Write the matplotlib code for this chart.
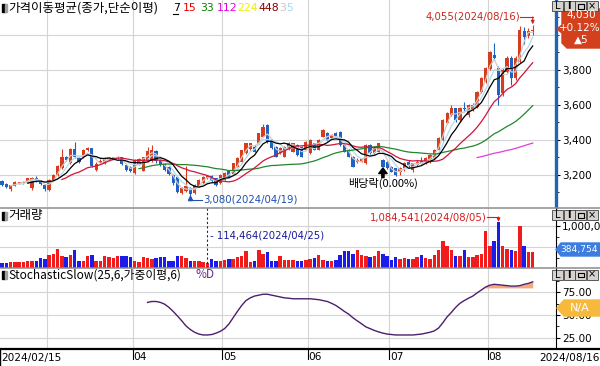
import numpy as np
import pandas as pd
import matplotlib
matplotlib.use("Agg")
import matplotlib.pyplot as plt
from matplotlib.patches import Rectangle, Polygon

W, H = 600, 366
KR = ["Noto Sans CJK KR", "DejaVu Sans"]
plt.rcParams["font.family"] = ["DejaVu Sans"]

# KRX trading days 2024/02/15 .. 2024/08/16
holidays = ["2024-03-01", "2024-04-10", "2024-05-01", "2024-05-06",
            "2024-05-15", "2024-06-06", "2024-08-15"]
dates = pd.bdate_range("2024-02-15", "2024-08-16")
dates = dates[~dates.isin(pd.to_datetime(holidays))]

opens = [3165, 3150, 3118, 3138, 3155, 3157, 3158, 3125, 3185, 3165,
         3145, 3115, 3170, 3200, 3240, 3305, 3270, 3350, 3295, 3300,
         3343, 3352, 3230, 3270, 3268, 3285, 3290, 3295, 3300, 3258,
         3245, 3212, 3260, 3225, 3280, 3280, 3335, 3285, 3265, 3248,
         3200, 3190, 3095, 3110, 3125, 3095, 3135, 3152, 3180, 3192,
         3180, 3152, 3172, 3220, 3205, 3248, 3276, 3325, 3350, 3362,
         3381, 3419, 3486, 3400, 3362, 3324, 3305, 3352, 3333, 3371,
         3362, 3343, 3324, 3381, 3343, 3419, 3438, 3410, 3440, 3448,
         3371, 3343, 3305, 3276, 3280, 3267, 3371, 3324, 3333, 3286,
         3276, 3248, 3238, 3215, 3238, 3272, 3228, 3255, 3278, 3267,
         3276, 3295, 3343, 3400, 3495, 3543, 3581, 3514, 3585, 3545,
         3572, 3590, 3676, 3733, 3805, 3886, 3810, 3667, 3790, 3867,
         3752, 3848, 4025, 3995, 4025]
highs = [3170, 3155, 3145, 3165, 3162, 3165, 3185, 3190, 3195, 3170,
         3150, 3175, 3205, 3255, 3350, 3310, 3355, 3390, 3300, 3350,
         3360, 3355, 3275, 3290, 3300, 3305, 3305, 3310, 3305, 3262,
         3250, 3290, 3295, 3305, 3360, 3370, 3340, 3290, 3270, 3250,
         3205, 3195, 3130, 3250, 3130, 3150, 3175, 3195, 3200, 3200,
         3185, 3205, 3215, 3225, 3270, 3300, 3345, 3385, 3385, 3370,
         3440, 3490, 3490, 3405, 3365, 3360, 3365, 3390, 3385, 3375,
         3365, 3395, 3405, 3385, 3405, 3460, 3445, 3435, 3445, 3450,
         3375, 3348, 3310, 3295, 3295, 3375, 3375, 3365, 3385, 3290,
         3280, 3252, 3240, 3245, 3275, 3285, 3270, 3285, 3300, 3300,
         3320, 3350, 3415, 3520, 3560, 3600, 3585, 3590, 3619, 3605,
         3610, 3680, 3760, 3815, 3910, 3952, 3820, 3810, 3880, 3880,
         3880, 4050, 4045, 4040, 4055]
lows = [3135, 3125, 3110, 3135, 3150, 3150, 3152, 3115, 3160, 3145,
        3110, 3110, 3165, 3195, 3235, 3280, 3265, 3295, 3270, 3295,
        3335, 3245, 3220, 3260, 3260, 3280, 3285, 3290, 3255, 3225,
        3215, 3205, 3255, 3220, 3275, 3275, 3270, 3250, 3225, 3200,
        3145, 3095, 3090, 3105, 3080, 3090, 3130, 3150, 3175, 3160,
        3135, 3150, 3170, 3185, 3200, 3245, 3270, 3320, 3345, 3330,
        3375, 3415, 3385, 3350, 3300, 3320, 3300, 3345, 3330, 3310,
        3300, 3340, 3320, 3340, 3340, 3415, 3395, 3405, 3410, 3365,
        3330, 3300, 3245, 3270, 3275, 3260, 3320, 3320, 3330, 3245,
        3235, 3215, 3195, 3200, 3225, 3240, 3218, 3250, 3260, 3262,
        3270, 3290, 3338, 3395, 3490, 3535, 3505, 3505, 3565, 3530,
        3565, 3585, 3670, 3725, 3800, 3855, 3600, 3650, 3780, 3714,
        3745, 3840, 3950, 3985, 4000]
closes = [3143, 3133, 3140, 3160, 3157, 3160, 3180, 3185, 3165, 3150,
          3120, 3170, 3200, 3250, 3300, 3285, 3350, 3300, 3275, 3343,
          3352, 3250, 3265, 3280, 3295, 3298, 3300, 3300, 3260, 3230,
          3222, 3286, 3290, 3300, 3335, 3345, 3278, 3258, 3230, 3205,
          3152, 3100, 3124, 3135, 3090, 3143, 3171, 3190, 3195, 3165,
          3140, 3200, 3210, 3190, 3267, 3295, 3343, 3381, 3381, 3333,
          3438, 3476, 3390, 3352, 3305, 3352, 3362, 3381, 3381, 3314,
          3305, 3390, 3400, 3343, 3400, 3457, 3400, 3430, 3415, 3371,
          3333, 3305, 3248, 3286, 3290, 3371, 3324, 3362, 3381, 3248,
          3238, 3219, 3200, 3240, 3270, 3255, 3267, 3276, 3265, 3295,
          3314, 3343, 3410, 3514, 3552, 3581, 3514, 3581, 3575, 3600,
          3600, 3676, 3752, 3810, 3905, 3867, 3657, 3800, 3867, 3752,
          3867, 4030, 3990, 4025, 4030]
volume = [119000, 121000, 143000, 135000, 137000, 143000, 159000, 175000, 159000, 238000,
          214000, 317000, 333000, 460000, 294000, 254000, 317000, 437000, 175000, 176000,
          294000, 317000, 159000, 175000, 278000, 254000, 238000, 278000, 294000, 278000,
          254000, 159000, 135000, 254000, 238000, 222000, 238000, 262000, 254000, 175000,
          175000, 294000, 278000, 238000, 175000, 175000, 159000, 135000, 114464, 222000,
          175000, 159000, 198000, 214000, 214000, 254000, 278000, 397000, 135000, 175000,
          437000, 341000, 373000, 159000, 175000, 278000, 198000, 198000, 198000, 159000,
          175000, 198000, 214000, 238000, 317000, 198000, 175000, 175000, 198000, 317000,
          397000, 397000, 333000, 437000, 317000, 278000, 254000, 278000, 413000, 333000,
          294000, 198000, 254000, 214000, 238000, 214000, 214000, 254000, 317000, 238000,
          222000, 317000, 437000, 635000, 532000, 437000, 278000, 294000, 437000, 254000,
          254000, 317000, 333000, 873000, 532000, 651000, 1084541, 516000, 452000, 437000,
          397000, 992000, 516000, 373000, 384754]
# StochasticSlow %D, available from the 35th session on
stoch_d = [64, 65, 65, 64, 62, 58.5, 54, 49, 43.6, 38,
           34, 31, 29, 28, 28, 28.5, 30, 32, 35, 40,
           47, 54, 60.6, 66, 69, 71, 72, 73, 73, 72,
           71, 70, 69, 68.6, 68, 68, 68, 68, 68, 67.5,
           67, 66, 65, 63, 60.6, 57.4, 54, 51, 47, 43.6,
           40.4, 37, 35, 33, 31.4, 30, 29, 28.5, 28, 28,
           28, 28, 28, 28.5, 29, 30, 31, 32.5, 35.6, 41.5,
           48, 53, 58.5, 63, 66, 68.6, 71, 74.5, 77.7, 81,
           83, 84, 83.5, 83, 82.5, 82, 82, 82.5, 84, 85, 86.7]
ma_periods = [7, 15, 33, 112, 224, 448, 3, 5]
ma_colors = ["black", "#e00000", "#008000", "#e000e0", "#f0f000", "#8b0000", "#c8c8c8", "#a8d8ee"]
ma_line_colors = ["black", "#d0143c", "#23862a", "#e03ce0", "#f0f000", "#8b0000", "#d8c8c0", "#b0dcf0"]
exdiv_idx = 89

RED, BLUE = "#d63c1e", "#1f62c4"
VRED, VBLUE = "#f01c1c", "#1c1ce8"
GRID = "#d4d4d4"

fig = plt.figure(figsize=(6, 3.66), dpi=100)


def box(x0, y0, x1, y1):
    return [x0 / W, 1 - y1 / H, (x1 - x0) / W, (y1 - y0) / H]


ax_p = fig.add_axes(box(0, 0, 556, 207))
ax_v = fig.add_axes(box(0, 208, 556, 268))
ax_s = fig.add_axes(box(0, 268, 556, 349))
ax_d = fig.add_axes(box(0, 349, 600, 366))
ov = fig.add_axes(box(0, 0, 600, 366), zorder=10)
ov.set_xlim(0, W)
ov.set_ylim(H, 0)
ov.axis("off")

n = len(closes)
x = np.arange(n)
step = 4.28
xlim = (-2 / step, 554 / step)
o, hi_, lo_, c = map(np.array, (opens, highs, lows, closes))
up = c >= o
month_idx = [i for i in range(1, n) if dates[i].month != dates[i - 1].month]

for ax in (ax_p, ax_v, ax_s):
    ax.set_xlim(*xlim)
    ax.set_xticks([])
    for s in ax.spines.values():
        s.set_visible(False)
    ax.spines["right"].set_visible(True)
    ax.yaxis.tick_right()
    ax.tick_params(axis="y", which="both", direction="out", labelsize=7.5, pad=1.5, colors="black")
    ax.tick_params(axis="y", which="major", length=3, width=0.8)
    ax.tick_params(axis="y", which="minor", length=2, width=0.6)
    for m in month_idx:
        ax.axvline(m - 0.5, color=GRID, lw=0.8, zorder=0)

# ---- price panel
ax_p.set_ylim(3017, 4200)
for p in range(3200, 4001, 200):
    ax_p.axhline(p, color=GRID, lw=0.8, zorder=0)
ax_p.set_yticks(range(3200, 3801, 200))
ax_p.set_yticklabels([f"{p:,}" for p in range(3200, 3801, 200)])
ax_p.set_yticks(range(3100, 4101, 100), minor=True)
ax_p.spines["right"].set_color("#2163b8")
ax_p.spines["right"].set_linewidth(2.4)

cols = np.where(up, RED, BLUE)
ax_p.vlines(x, lo_, hi_, colors=cols, lw=0.8, zorder=2)
ax_p.bar(x, np.maximum(np.abs(c - o), 4), bottom=np.minimum(o, c), width=0.74,
         color=cols, lw=0, zorder=2)

cs = pd.Series(closes, dtype=float)
for per, col in zip(ma_periods[::-1], ma_line_colors[::-1]):
    ax_p.plot(x, cs.rolling(per).mean(), color=col, lw=0.9, zorder=3)

hi = int(np.argmax(highs))
ty = highs[hi] + 48
ax_p.text(hi - 3.0, ty, f"{highs[hi]:,}({dates[hi]:%Y/%m/%d})", ha="right", va="center",
          color="#c8281e", fontsize=7.3)
ax_p.plot([hi - 2.9, hi], [ty, ty], color="#c8281e", lw=0.8, zorder=4)
ax_p.annotate("", xy=(hi, highs[hi] + 6), xytext=(hi, ty),
              arrowprops=dict(arrowstyle="-|>", color="#c8281e", lw=0.8,
                              mutation_scale=5, shrinkA=0, shrinkB=0))

lo = int(np.argmin(lows))
ly = lows[lo] - 22
ax_p.plot([lo, lo + 2.8], [ly, ly], color="#2050b0", lw=0.8, zorder=4)
ax_p.plot(lo, lows[lo] - 10, marker="^", ms=3, color="#2050b0", zorder=4)
ax_p.text(lo + 3.0, ly, f"{lows[lo]:,}({dates[lo]:%Y/%m/%d})", ha="left", va="center",
          color="#2050b0", fontsize=7.3)

ax_p.annotate("", xy=(exdiv_idx, lows[exdiv_idx] - 5), xytext=(exdiv_idx, lows[exdiv_idx] - 60),
              arrowprops=dict(facecolor="black", edgecolor="black", width=1.6,
                              headwidth=6, headlength=4))
ax_p.text(exdiv_idx, lows[exdiv_idx] - 95, "배당락(0.00%)", ha="center", va="center",
          fontsize=8, family=KR)

# ---- volume panel
ax_v.set_ylim(0, 1.43e6)
for v in (500000, 1000000):
    ax_v.axhline(v, color=GRID, lw=0.8, zorder=0)
ax_v.set_yticks([500000, 1000000])
ax_v.set_yticklabels(["500,000", "1,000,000"])
ax_v.set_yticks(np.arange(250000, 1400001, 250000), minor=True)
ax_v.spines["right"].set_linewidth(0.8)
ax_v.bar(x, volume, width=0.8, color=np.where(up, VRED, VBLUE), lw=0, zorder=2)

vi = int(np.argmax(volume))
vy = 1.215e6
ax_v.text(vi - 2.8, vy, f"{volume[vi]:,}({dates[vi]:%Y/%m/%d})", ha="right", va="center",
          color="#d81e1e", fontsize=7.3)
ax_v.plot([vi - 2.7, vi], [vy, vy], color="#d81e1e", lw=0.8, zorder=4)
ax_v.annotate("", xy=(vi, volume[vi] + 15000), xytext=(vi, vy),
              arrowprops=dict(arrowstyle="-|>", color="#d81e1e", lw=0.8,
                              mutation_scale=5, shrinkA=0, shrinkB=0))
vn = int(np.argmin(volume))
ax_v.axvline(vn, color="#1a1a9a", lw=0.8, ls=(0, (2, 2)), zorder=4)
ax_v.text(vn + 0.6, 786000, f"- {volume[vn]:,}({dates[vn]:%Y/%m/%d})", ha="left", va="center",
          color="#1a1a9a", fontsize=7.3)

# ---- stochastic panel
ax_s.set_ylim(16, 102)
for v in (25, 50, 75):
    ax_s.axhline(v, color=GRID, lw=0.8, zorder=0)
ax_s.set_yticks([25, 50, 75])
ax_s.set_yticklabels(["25.00", "50.00", "75.00"])
ax_s.set_yticks(np.arange(12.5, 100, 12.5), minor=True)
ax_s.spines["right"].set_linewidth(0.8)
sx = np.arange(n - len(stoch_d), n)
sd = np.array(stoch_d)
ax_s.fill_between(sx, sd, 80, where=sd > 80, interpolate=True, color="#f6a87c", lw=0, zorder=1)
ax_s.plot(sx, sd, color="#4b1f6b", lw=1.0, zorder=2)

# ---- date axis
ax_d.set_xlim(xlim[0], 598 / step)
ax_d.set_ylim(0, 1)
ax_d.set_xticks([])
ax_d.set_yticks([])
for k, s in ax_d.spines.items():
    s.set_visible(k in ("top", "left"))
ax_d.spines["top"].set_linewidth(1.6)
ax_d.spines["left"].set_linewidth(1.0)
ax_d.text(xlim[0] + 0.2, 0.5, f"{dates[0]:%Y/%m/%d}", ha="left", va="center", fontsize=7.6)
ax_d.text(598 / step - 0.2, 0.5, f"{dates[-1]:%Y/%m/%d}", ha="right", va="center", fontsize=7.6)
for m in month_idx:
    if (m - xlim[0]) * step < 70:  # hidden under the first date label
        continue
    ax_d.plot([m - 0.5, m - 0.5], [1, 0.4], color="black", lw=0.8)
    ax_d.text(m - 0.35, 0.5, f"{dates[m].month:02d}", ha="left", va="center", fontsize=7.6)

# ---- overlay: panel titles, separators, right-side boxes
for yy in (207.5, 267.5):
    ov.plot([0, W], [yy, yy], color="#8c8c8c", lw=1.1)


def icon(y):
    ov.add_patch(Rectangle((2, y - 4), 3, 8, color="black"))
    ov.add_patch(Rectangle((5, y - 4), 2, 8, color="#a0a0a0"))


icon(8)
ov.text(8, 8, "가격이동평균(종가,단순이평)", fontsize=9, va="center", family=KR)
leg_x = [173, 183, 200, 217, 237, 258, 279, 286]
for per, col, lx in zip(ma_periods, ma_colors, leg_x):
    ov.text(lx, 8, str(per), color=col, fontsize=7.8, va="center")
ov.plot([173, 178], [13.5, 13.5], color="black", lw=0.8)

icon(216)
ov.text(8, 216, "거래량", fontsize=9, va="center", family=KR)
icon(275)
ov.text(8, 275, "StochasticSlow(25,6,가중이평,6)", fontsize=8.5, va="center", family=KR)
ov.text(196, 275, "%D", fontsize=8.5, va="center", color="#6a2a8a", family=KR)


def buttons(y):
    for i, g in enumerate(["L", "I", "", "×"]):
        bx = 552 + i * 11.5
        ov.add_patch(Rectangle((bx, y), 11, 10, facecolor="#d6d3ce", edgecolor="#404040", lw=0.6))
        if g:
            ov.text(bx + 5.5, y + 5.3, g, ha="center", va="center", fontsize=7,
                    fontweight="bold" if g == "I" else "normal")
        else:
            ov.add_patch(Rectangle((bx + 2.5, y + 3), 6, 4.5, facecolor="none",
                                   edgecolor="black", lw=0.8))


ov.add_patch(Polygon([(562, 9), (600, 9), (600, 48), (567, 48), (562, 43),
                      (562, 33), (557, 29), (562, 25)], color="#d2401e"))
ov.text(581, 15, f"{closes[-1]:,}", color="white", fontsize=7.5, ha="center", va="center")
chg = closes[-1] - closes[-2]
ov.text(580, 28, f"+{chg / closes[-2] * 100:.2f}%", color="white", fontsize=7.5, ha="center", va="center")
ov.text(581, 40, f"▲{chg}", color="white", fontsize=7.5, ha="center", va="center")
buttons(1)

ov.add_patch(Polygon([(556, 249.5), (561, 243), (600, 243), (600, 256), (561, 256)], color="#3c7ee0"))
ov.text(560.5, 249.5, f"{volume[-1]:,}", color="white", fontsize=6.6, va="center")
buttons(210)

ov.add_patch(Polygon([(557, 308), (564, 300), (600, 300), (600, 316), (564, 316)], color="#f6b93b"))
ov.text(580, 308, "N/A", color="white", fontsize=8, ha="center", va="center")
buttons(269.5)

fig.savefig("out.png", dpi=100)
